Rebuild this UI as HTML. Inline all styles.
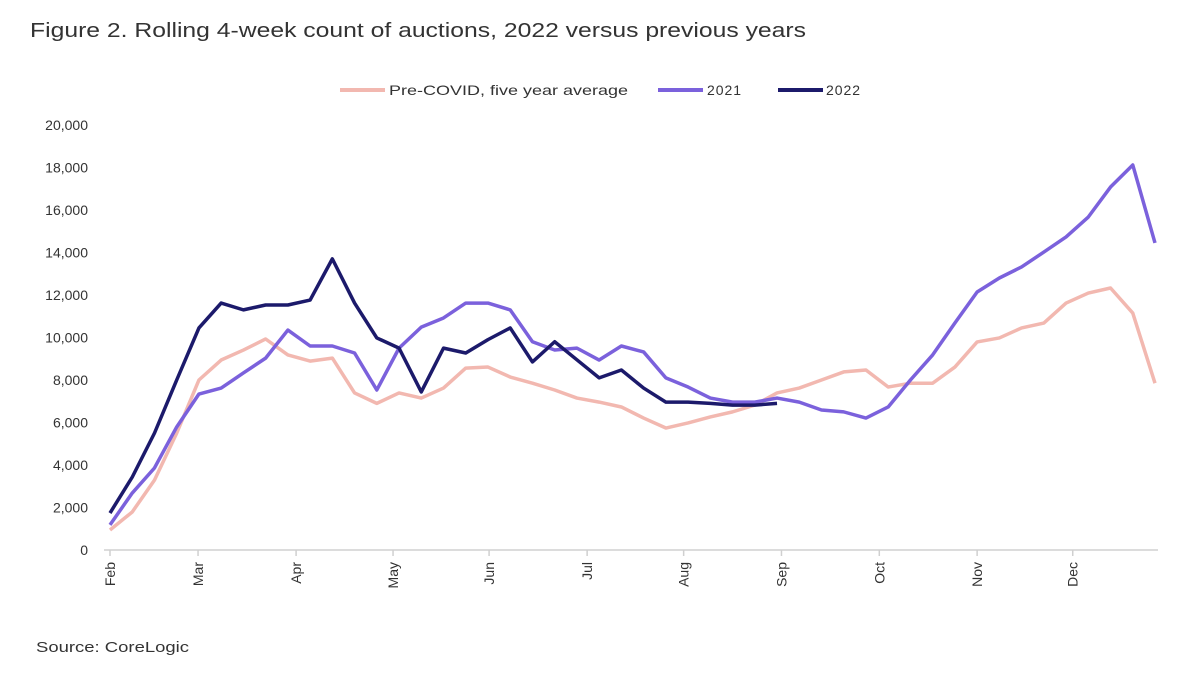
<!DOCTYPE html>
<html><head><meta charset="utf-8"><style>
body{margin:0;background:#fff;width:1180px;height:689px;overflow:hidden;font-family:"Liberation Sans",sans-serif;}
</style></head><body>
<svg width="1180" height="689" id="svg" style="position:absolute;left:0;top:0">
<text x="30" y="37" font-size="20" fill="#333" textLength="776" lengthAdjust="spacingAndGlyphs">Figure 2. Rolling 4-week count of auctions, 2022 versus previous years</text>
<g font-size="14" fill="#333">
<line x1="340" y1="90" x2="385" y2="90" stroke="#f2b8b0" stroke-width="4"/>
<text x="389" y="95" textLength="239" lengthAdjust="spacingAndGlyphs">Pre-COVID, five year average</text>
<line x1="658" y1="90" x2="703" y2="90" stroke="#7b61dc" stroke-width="4"/>
<text x="707" y="95" textLength="34">2021</text>
<line x1="778" y1="90" x2="823" y2="90" stroke="#1c1a6b" stroke-width="4"/>
<text x="826" y="95" textLength="34">2022</text>
</g>
<g id="axes"></g><g id="series"></g>
<text x="36" y="652" font-size="15" fill="#333" textLength="153" lengthAdjust="spacingAndGlyphs">Source: CoreLogic</text>
</svg>
<script>
const months=["Feb","Mar","Apr","May","Jun","Jul","Aug","Sep","Oct","Nov","Dec"];
const monthIdx=[0,3.96,8.37,12.73,17.05,21.46,25.8,30.2,34.6,39.0,43.3];
const yTicks=[0,2000,4000,6000,8000,10000,12000,14000,16000,18000,20000];
const preCovid=[940,1790,3290,5500,8000,8940,9410,9930,9180,8890,9030,7390,6900,7390,7150,7620,8560,8610,8140,7850,7530,7150,6960,6730,6210,5740,5980,6260,6500,6820,7390,7620,8000,8380,8470,7670,7850,7850,8610,9790,9980,10450,10680,11620,12090,12330,11150,7850];
const y2021=[1180,2680,3860,5790,7340,7620,8330,9030,10350,9600,9600,9270,7530,9500,10490,10920,11620,11620,11300,9800,9410,9500,8940,9600,9320,8100,7670,7150,6960,6960,7150,6960,6590,6500,6210,6730,8000,9180,10680,12140,12800,13320,14020,14730,15670,17080,18120,14450];
const y2022=[1740,3430,5500,8000,10450,11620,11300,11530,11530,11760,13700,11620,9980,9500,7440,9500,9270,9900,10450,8850,9800,8950,8100,8470,7620,6960,6960,6900,6820,6820,6900];
const NS="http://www.w3.org/2000/svg";
const x0=110,x1=1155,nPts=48,y0=550,yTop=125;
const X=i=>x0+(x1-x0)*i/(nPts-1);
const Y=v=>y0-(y0-yTop)*v/20000;
function mk(t,a,parent){const e=document.createElementNS(NS,t);for(const k in a)e.setAttribute(k,a[k]);parent.appendChild(e);return e;}
const ax=document.getElementById('axes');
yTicks.forEach(v=>{const t=mk('text',{x:88,y:Y(v)+5,'text-anchor':'end','font-size':14,fill:'#333'},ax);t.textContent=v.toLocaleString('en-US');

});
const base=mk('line',{x1:104,x2:1158,y1:y0,y2:y0,stroke:'#d0d0d0','stroke-width':1.5},ax);


months.forEach((m,k)=>{const x=X(monthIdx[k]);
const tk=mk('line',{x1:x,x2:x,y1:y0,y2:y0+6,stroke:'#d0d0d0','stroke-width':1.5},ax);


const t=mk('text',{x:0,y:0,'text-anchor':'end','font-size':14,fill:'#333',transform:`translate(${x+5},${y0+12}) rotate(-90)`},ax);t.textContent=m;

});
const sg=document.getElementById('series');
function line(data,color,name){const p=mk('polyline',{points:data.map((v,i)=>X(i)+','+Y(v)).join(' '),fill:'none',stroke:color,'stroke-width':3.5,'stroke-linejoin':'round'},sg);

}
line(preCovid,'#f2b8b0','line-precovid');
line(y2021,'#7b61dc','line-2021');
line(y2022,'#1c1a6b','line-2022');
</script>
</body></html>
